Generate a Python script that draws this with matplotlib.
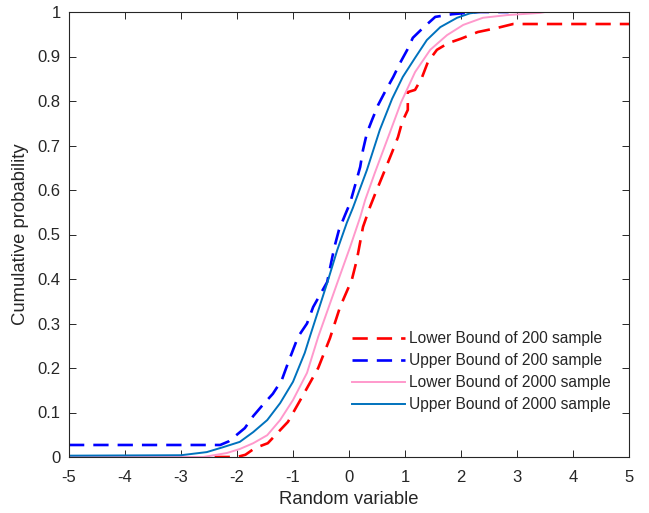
import matplotlib
matplotlib.use("Agg")
import matplotlib.pyplot as plt

# values
x_lower_200 = [-2.4, -2.0, -1.85, -1.68, -1.45, -1.09, -0.82, -0.55, -0.34, -0.16, 0.05,
               0.14, 0.25, 0.375, 0.46, 0.59, 0.77, 0.875, 0.95, 1.05, 1.05, 1.18, 1.30,
               1.41, 1.57, 1.77, 2.0, 2.3, 2.64, 2.93, 5.0]
y_lower_200 = [0.0, 0.0, 0.005, 0.02, 0.031, 0.079, 0.139, 0.2, 0.267, 0.337, 0.398,
               0.443, 0.517, 0.562, 0.589, 0.629, 0.685, 0.719, 0.753, 0.78, 0.82, 0.825,
               0.852, 0.888, 0.915, 0.93, 0.94, 0.955, 0.964, 0.973, 0.973]

x_upper_200 = [-5.0, -2.3, -2.15, -2.07, -1.86, -1.71, -1.54, -1.36, -1.2, -1.09, -0.91,
               -0.75, -0.64, -0.52, -0.39, -0.32, -0.26, -0.18, -0.07, 0.02, 0.11, 0.2,
               0.25, 0.32, 0.41, 0.52, 0.64, 0.79, 0.91, 1.04, 1.14, 1.32, 1.54, 1.84,
               2.1, 2.3, 2.85]
y_upper_200 = [0.027, 0.027, 0.035, 0.043, 0.065, 0.092, 0.117, 0.142, 0.173, 0.211, 0.27,
               0.3, 0.337, 0.364, 0.393, 0.436, 0.472, 0.51, 0.544, 0.571, 0.611, 0.652,
               0.69, 0.728, 0.757, 0.791, 0.82, 0.854, 0.885, 0.915, 0.942, 0.964, 0.989,
               0.995, 0.998, 1.0, 1.0]

x_lower_2000 = [-5.0, -2.6, -2.18, -1.95, -1.71, -1.46, -1.23, -1.0, -0.75, -0.55, -0.21,
                0.02, 0.2, 0.29, 0.46, 0.70, 0.93, 1.18, 1.45, 1.75, 2.04, 2.39, 2.82,
                3.41, 3.5, 5.0]
y_lower_2000 = [0.0, 0.0, 0.009, 0.018, 0.031, 0.049, 0.083, 0.128, 0.189, 0.27, 0.391,
                0.472, 0.539, 0.578, 0.638, 0.719, 0.797, 0.865, 0.915, 0.948, 0.971,
                0.987, 0.993, 0.998, 1.0, 1.0]

x_upper_2000 = [-5.0, -3.0, -2.54, -2.25, -1.95, -1.71, -1.46, -1.23, -1.0, -0.79, -0.70,
                -0.39, -0.21, -0.04, 0.07, 0.32, 0.55, 0.77, 0.96, 1.18, 1.39, 1.63,
                1.93, 2.16, 2.35, 5.0]
y_upper_2000 = [0.003, 0.004, 0.011, 0.022, 0.034, 0.056, 0.083, 0.121, 0.169, 0.234, 0.27,
                0.391, 0.465, 0.526, 0.56, 0.645, 0.735, 0.805, 0.854, 0.897, 0.937,
                0.966, 0.987, 0.997, 1.0, 1.0]

labels = ["Lower Bound of 200 sample", "Upper Bound of 200 sample",
          "Lower Bound of 2000 sample", "Upper Bound of 2000 sample"]
x_ticks = [-5, -4, -3, -2, -1, 0, 1, 2, 3, 4, 5]
y_ticks = [0, 0.1, 0.2, 0.3, 0.4, 0.5, 0.6, 0.7, 0.8, 0.9, 1]
y_tick_labels = ["0", "0.1", "0.2", "0.3", "0.4", "0.5", "0.6", "0.7", "0.8", "0.9", "1"]

plt.rcParams["font.family"] = ["Liberation Sans", "DejaVu Sans"]
plt.rcParams["lines.scale_dashes"] = False

text_col = "#262626"

fig = plt.figure(figsize=(6.49, 5.13), dpi=100)
ax = fig.add_axes([69 / 649, 56 / 513, 560 / 649, 445 / 513])

ax.plot(x_lower_200, y_lower_200, color="#FF0000", lw=1.9, dashes=(11, 6.5), label=labels[0])
ax.plot(x_upper_200, y_upper_200, color="#0000FF", lw=1.9, dashes=(11, 6.5), label=labels[1])
ax.plot(x_lower_2000, y_lower_2000, color="#FF99CC", lw=1.4, label=labels[2])
ax.plot(x_upper_2000, y_upper_2000, color="#0072BD", lw=1.4, label=labels[3])

ax.set_xlim(-5, 5)
ax.set_ylim(0, 1)
ax.set_xticks(x_ticks)
ax.set_xticklabels([str(t) for t in x_ticks])
ax.set_yticks(y_ticks)
ax.set_yticklabels(y_tick_labels)
ax.tick_params(direction="in", top=True, right=True, length=5, width=0.7,
               labelsize=12, colors=text_col)
ax.tick_params(axis="x", pad=9.5)
ax.tick_params(axis="y", pad=6)
for s in ax.spines.values():
    s.set_color(text_col)
    s.set_linewidth(0.8)

ax.set_xlabel("Random variable", fontsize=13.3, color=text_col, labelpad=4)
ax.set_ylabel("Cumulative probability", fontsize=13.3, color=text_col, labelpad=6)

leg = ax.legend(loc="upper left", bbox_to_anchor=(0.505, 0.283), frameon=False,
                fontsize=11.2, handlelength=3.4, handletextpad=0.3, labelspacing=0.45,
                borderpad=0, borderaxespad=0)
for t in leg.get_texts():
    t.set_color(text_col)

fig.savefig("out.png", dpi=100)
